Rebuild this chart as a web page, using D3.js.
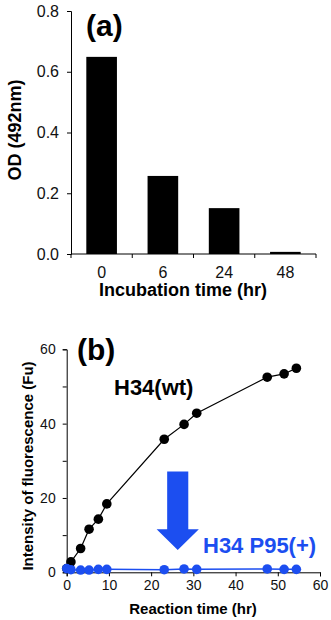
<!DOCTYPE html>
<html>
<head>
<meta charset="utf-8">
<script src="https://cdn.jsdelivr.net/npm/d3@7"></script>
<style>
  html, body { margin: 0; padding: 0; background: #fff; }
  svg { display: block; }
  text { font-family: "Liberation Sans", Arial, Helvetica, sans-serif; }
</style>
</head>
<body>
<svg id="chart" width="331" height="620"></svg>
<script>
// ---------- Data: panel (a) ----------
const incubationTimes = ["0", "6", "24", "48"];
const odValues = [0.649, 0.257, 0.151, 0.007];
const odTicks = [0, 0.2, 0.4, 0.6, 0.8];

// ---------- Data: panel (b) ----------
const reactionTimes = [0, 1, 3.3, 5.3, 7.5, 9.5, 23.1, 27.8, 30.8, 47.5, 51.5, 54.4];
const wtValues      = [1.0, 2.8, 6.4, 11.6, 14.3, 18.4, 35.8, 39.8, 42.8, 52.5, 53.4, 54.9];
const p95Values     = [1.0, 0.7, 0.6, 0.6, 0.8, 0.8, 0.7, 0.9, 0.8, 0.9, 0.8, 0.8];
const fluoTicks = [0, 10, 20, 30, 40, 50, 60];
const fluoTickLabels = [0, 20, 40, 60];
const timeTicks = [0, 10, 20, 30, 40, 50, 60];
// arrow annotation (data coordinates: hr, Fu)
const arrowX = [26.3];
const arrowTopBottom = [27.1, 11.6, 6.0];
const arrowHalfWidths = [2.5, 5.0];

const BLUE = "#1c4ef0";
const svg = d3.select("#chart");

// ================= Panel (a) =================
const xA = d3.scaleBand().domain(incubationTimes).range([71, 316])
  .paddingInner(0.5).paddingOuter(0.25);
const yA = d3.scaleLinear().domain([0, 0.8]).range([254, 11]);

const gA = svg.append("g");
gA.selectAll("rect.bar").data(incubationTimes).join("rect")
  .attr("class", "bar")
  .attr("x", d => xA(d))
  .attr("width", xA.bandwidth())
  .attr("y", (d, i) => yA(odValues[i]))
  .attr("height", (d, i) => yA(0) - yA(odValues[i]))
  .attr("fill", "#000");

// y axis
const yAxisA = gA.append("g").attr("transform", "translate(71,0)")
  .call(d3.axisLeft(yA).tickValues(odTicks).tickFormat(d3.format(".1f"))
    .tickSize(4).tickPadding(8));
yAxisA.selectAll("text").attr("font-size", 16).attr("fill", "#111");

// x axis: line, boundary ticks, labels
const xAxisA = gA.append("g").attr("transform", "translate(0,254)")
  .call(d3.axisBottom(xA).tickSize(0).tickPadding(12.5));
xAxisA.select(".domain").attr("d", `M${xA.range()[0]},0H${xA.range()[1]}`);
xAxisA.selectAll("text").attr("font-size", 16).attr("fill", "#111");
const bounds = [xA(incubationTimes[0]) + xA.bandwidth() / 2 - xA.step() / 2]
  .concat(incubationTimes.map(d => xA(d) + xA.bandwidth() / 2 + xA.step() / 2));
xAxisA.selectAll("line.btick").data(bounds).join("line")
  .attr("class", "btick")
  .attr("x1", d => d).attr("x2", d => d)
  .attr("y1", 0).attr("y2", 4)
  .attr("stroke", "#000");

gA.append("text").attr("transform", "translate(21,130) rotate(-90)")
  .attr("text-anchor", "middle").attr("font-weight", "bold").attr("font-size", 18)
  .text("OD (492nm)");
gA.append("text").attr("x", 183).attr("y", 296)
  .attr("text-anchor", "middle").attr("font-weight", "bold").attr("font-size", 18)
  .text("Incubation time (hr)");
gA.append("text").attr("x", 86).attr("y", 36)
  .attr("font-weight", "bold").attr("font-size", 30)
  .text("(a)");

// ================= Panel (b) =================
const xB = d3.scaleLinear().domain([0, 60]).range([66.7, 320]);
const yB = d3.scaleLinear().domain([0, 60]).range([572.3, 349.3]);
const gB = svg.append("g");

const yAxisB = gB.append("g").attr("transform", `translate(${xB(0)},0)`)
  .call(d3.axisLeft(yB).tickValues(fluoTicks)
    .tickFormat(d => fluoTickLabels.includes(d) ? d : "")
    .tickSize(4).tickPadding(7));
yAxisB.selectAll("text").attr("font-size", 14).attr("fill", "#111");

const xAxisB = gB.append("g").attr("transform", `translate(0,${yB(0)})`)
  .call(d3.axisBottom(xB).tickValues(timeTicks).tickFormat(d3.format("d"))
    .tickSize(4).tickPadding(4));
xAxisB.selectAll("text").attr("font-size", 14).attr("fill", "#111");

const pts = (vals) => reactionTimes.map((t, i) => [t, vals[i]]);
const line = d3.line().x(d => xB(d[0])).y(d => yB(d[1]));

// wild type
gB.append("path").datum(pts(wtValues)).attr("d", line)
  .attr("fill", "none").attr("stroke", "#000").attr("stroke-width", 1.2);
gB.selectAll("circle.wt").data(pts(wtValues)).join("circle")
  .attr("class", "wt")
  .attr("cx", d => xB(d[0])).attr("cy", d => yB(d[1])).attr("r", 4.8)
  .attr("fill", "#000");

// P95(+)
gB.append("path").datum(pts(p95Values)).attr("d", line)
  .attr("fill", "none").attr("stroke", BLUE).attr("stroke-width", 1.5);
gB.selectAll("circle.p95").data(pts(p95Values)).join("circle")
  .attr("class", "p95")
  .attr("cx", d => xB(d[0])).attr("cy", d => yB(d[1])).attr("r", 4.8)
  .attr("fill", BLUE);

// arrow
const ax = arrowX[0];
const [aTop, aHead, aTip] = arrowTopBottom;
const [sw, hw] = arrowHalfWidths;
const arrowPts = [
  [ax - sw, aTop], [ax + sw, aTop], [ax + sw, aHead], [ax + hw, aHead],
  [ax, aTip], [ax - hw, aHead], [ax - sw, aHead]
];
gB.append("polygon")
  .attr("points", arrowPts.map(p => [xB(p[0]), yB(p[1])].join(",")).join(" "))
  .attr("fill", BLUE);

gB.append("text").attr("transform", "translate(32.5,466) rotate(-90)")
  .attr("text-anchor", "middle").attr("font-weight", "bold").attr("font-size", 15)
  .text("Intensity of fluorescence (Fu)");
gB.append("text").attr("x", 193).attr("y", 614)
  .attr("text-anchor", "middle").attr("font-weight", "bold").attr("font-size", 15)
  .text("Reaction time (hr)");
gB.append("text").attr("x", 77).attr("y", 360)
  .attr("font-weight", "bold").attr("font-size", 30)
  .text("(b)");
gB.append("text").attr("x", 114).attr("y", 395)
  .attr("font-weight", "bold").attr("font-size", 22)
  .text("H34(wt)");
gB.append("text").attr("x", 203).attr("y", 553)
  .attr("font-weight", "bold").attr("font-size", 22).attr("fill", BLUE)
  .text("H34 P95(+)");
</script>
</body>
</html>
